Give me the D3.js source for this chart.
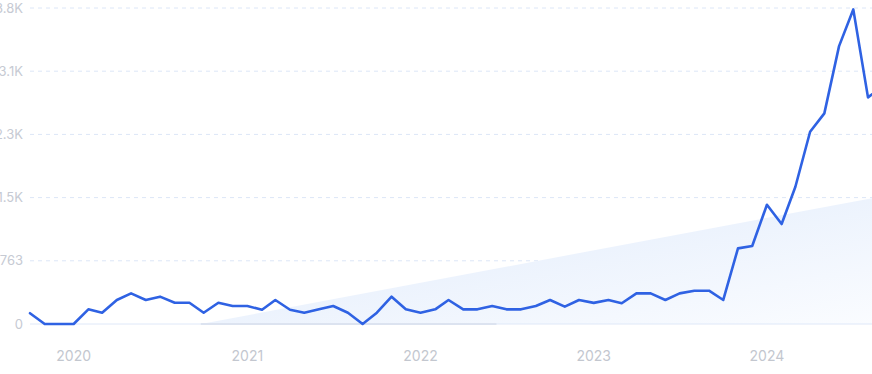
<!DOCTYPE html>
<html>
<head>
<meta charset="utf-8">
<script src="https://cdn.jsdelivr.net/npm/d3@7"></script>
<style>
html,body{margin:0;padding:0;background:#fff;overflow:hidden;}
svg{display:block;}
text{font-family:Inter,"Noto Sans",sans-serif;}
</style>
</head>
<body>
<svg id="chart" width="872" height="374"></svg>
<script>
// ---- data ----
const months = [
"2019-10","2019-11","2019-12","2020-01","2020-02","2020-03","2020-04","2020-05","2020-06","2020-07",
"2020-08","2020-09","2020-10","2020-11","2020-12","2021-01","2021-02","2021-03","2021-04","2021-05",
"2021-06","2021-07","2021-08","2021-09","2021-10","2021-11","2021-12","2022-01","2022-02","2022-03",
"2022-04","2022-05","2022-06","2022-07","2022-08","2022-09","2022-10","2022-11","2022-12","2023-01",
"2023-02","2023-03","2023-04","2023-05","2023-06","2023-07","2023-08","2023-09","2023-10","2023-11",
"2023-12","2024-01","2024-02","2024-03","2024-04","2024-05","2024-06","2024-07","2024-08","2024-09"];
const values = [
130,0,0,0,177,136,290,370,290,330,
257,257,136,257,217,217,172,290,172,136,
177,217,136,0,136,330,177,136,177,290,
177,177,217,177,177,217,290,209,290,255,
290,250,370,370,290,370,402,402,290,913,
941,1440,1207,1657,2321,2543,3355,3798,2736,2870];
const yTicks = [0,763,1526,2289,3052,3815];
const yTickLabels = ["0","763","1.5K","2.3K","3.1K","3.8K"];
const yearTicks = ["2020","2021","2022","2023","2024"];
const trendDates = ["2020-09-25","2024-08-10"];
const trendValues = [0,1520];
const baseBandDates = ["2020-09-25","2022-06-10"];

// ---- layout ----
const W = 872, H = 374;
const parse = d3.timeParse("%Y-%m");
const parseDay = d3.timeParse("%Y-%m-%d");
const data = months.map((m,i)=>({date:parse(m), value:values[i]}));

const x = d3.scaleTime()
  .domain([parse("2019-10"), parse("2024-08")])
  .range([30, 868]);
const y = d3.scaleLinear().domain([0,3815]).range([324, 8]);

const svg = d3.select("#chart");
const defs = svg.append("defs");
const grad = defs.append("linearGradient").attr("id","trendGrad")
  .attr("x1","0%").attr("y1","0%").attr("x2","100%").attr("y2","100%");
grad.append("stop").attr("offset","0%").attr("stop-color","#dfeafb");
grad.append("stop").attr("offset","100%").attr("stop-color","#fafcff");
defs.append("clipPath").attr("id","clip").append("rect")
  .attr("x",0).attr("y",0).attr("width",W).attr("height",H);

// grid
const grid = svg.append("g");
grid.selectAll("line").data(yTicks.slice(1)).join("line")
  .attr("x1",30).attr("x2",W)
  .attr("y1",d=>y(d)).attr("y2",d=>y(d))
  .attr("stroke","#dce6f7").attr("stroke-width",1)
  .attr("stroke-dasharray","4,4");

// trend area
const trend = trendDates.map((d,i)=>({date:parseDay(d), value:trendValues[i]}));
const area = d3.area().x(d=>x(d.date)).y0(y(0)).y1(d=>y(d.value));
svg.append("path").datum(trend).attr("d",area).attr("fill","url(#trendGrad)");

// baseline
svg.append("line").attr("x1",30).attr("x2",W).attr("y1",y(0)).attr("y2",y(0))
  .attr("stroke","#dfe8f8").attr("stroke-width",1);
svg.append("line")
  .attr("x1",x(parseDay(baseBandDates[0]))).attr("x2",x(parseDay(baseBandDates[1])))
  .attr("y1",y(0)).attr("y2",y(0))
  .attr("stroke","#dce3f0").attr("stroke-width",2);

// y labels
svg.append("g").selectAll("text").data(yTicks).join("text")
  .attr("x",23).attr("y",d=>y(d)).attr("dy","0.35em")
  .attr("text-anchor","end").attr("font-size",13).attr("fill","#c6cad3")
  .text((d,i)=>yTickLabels[i]);

// x labels
svg.append("g").selectAll("text").data(yearTicks).join("text")
  .attr("x",d=>x(d3.timeParse("%Y")(d))).attr("y",356).attr("dy","0.35em")
  .attr("text-anchor","middle").attr("font-size",14).attr("fill","#c3c7cf")
  .text(d=>d);

// line
const line = d3.line().x(d=>x(d.date)).y(d=>y(d.value));
svg.append("path").datum(data).attr("clip-path","url(#clip)")
  .attr("d",line).attr("fill","none")
  .attr("stroke","#2f62e3").attr("stroke-width",2.6)
  .attr("stroke-linejoin","round").attr("stroke-linecap","round");
</script>
</body>
</html>
